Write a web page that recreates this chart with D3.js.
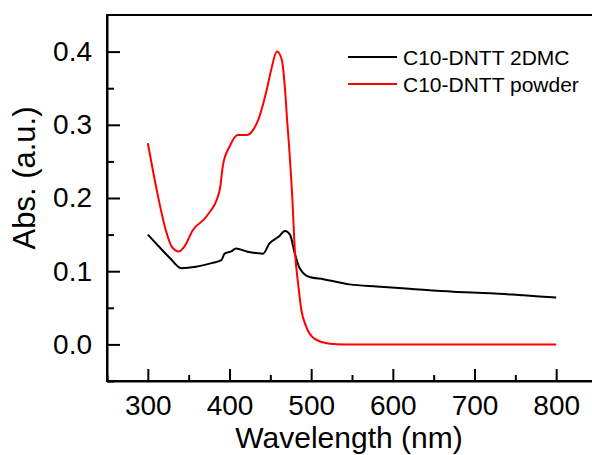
<!DOCTYPE html>
<html>
<head>
<meta charset="utf-8">
<script src="https://cdn.jsdelivr.net/npm/d3@7"></script>
<style>
    body { margin: 0; background: #fff; }
    svg { display: block; font-family: Arial, "Liberation Sans", sans-serif; }
    .axis text { font-size: 28px; fill: #000; }
    .axis path, .axis line { stroke: #000; stroke-width: 2; }
</style>
</head>
<body>
<div id="chart"></div>
<script>
// values
const dmcWave = [300, 310, 327, 341, 359, 378, 390, 394, 402, 408, 421, 441, 449, 460, 468, 474, 480, 486, 498, 515, 547, 580, 620, 674, 720, 760, 800];
const dmcAbs  = [0.150, 0.138, 0.118, 0.104, 0.106, 0.111, 0.115, 0.124, 0.127, 0.131, 0.127, 0.124, 0.138, 0.147, 0.155, 0.150, 0.124, 0.104, 0.092, 0.089, 0.082, 0.079, 0.076, 0.072, 0.070, 0.067, 0.064];

const powderWave = [300, 310, 322, 329, 338, 345, 355, 372, 388, 392, 400, 410, 421, 429, 436, 445, 451, 458, 464, 468, 470.5, 473, 477, 480, 484, 488, 494, 504, 523, 540, 800];
const powderAbs  = [0.275, 0.216, 0.156, 0.134, 0.127, 0.134, 0.156, 0.175, 0.211, 0.245, 0.270, 0.286, 0.286, 0.293, 0.309, 0.345, 0.375, 0.400, 0.389, 0.348, 0.307, 0.270, 0.198, 0.129, 0.083, 0.047, 0.024, 0.008, 0.001, 0, 0];

const xTicks = [300, 400, 500, 600, 700, 800];
const xMinor = [250, 350, 450, 550, 650, 750, 850];
const yTicks = [0.0, 0.1, 0.2, 0.3, 0.4];
const yMinor = [-0.05, 0.05, 0.15, 0.25, 0.35];

const seriesNames = ['C10-DNTT 2DMC', 'C10-DNTT powder'];
const seriesColors = ['#000000', '#ff0000'];

const W = 592, H = 455;
const plotLeft = 107, plotRight = 597, plotTop = 15, plotBottom = 381;

const svg = d3.select('#chart').append('svg')
    .attr('width', W)
    .attr('height', H);

const x = d3.scaleLinear().domain([250, 850]).range([plotLeft, plotRight]);
const y = d3.scaleLinear().domain([-0.05, 0.45]).range([plotBottom, plotTop]);

// frame
svg.append('rect')
    .attr('x', plotLeft).attr('y', plotTop)
    .attr('width', plotRight - plotLeft).attr('height', plotBottom - plotTop)
    .attr('fill', 'none').attr('stroke', '#000').attr('stroke-width', 2);

// bottom axis, ticks pointing in
const xAxis = svg.append('g')
    .attr('class', 'axis')
    .attr('transform', `translate(0,${plotBottom})`)
    .call(d3.axisBottom(x).tickValues(xTicks).tickSize(-12).tickSizeOuter(0).tickPadding(14).tickFormat(d3.format('d')));
xAxis.selectAll('text').attr('dy', '0.71em');

svg.append('g')
    .attr('class', 'axis')
    .attr('transform', `translate(0,${plotBottom})`)
    .call(d3.axisBottom(x).tickValues(xMinor).tickSize(-6).tickSizeOuter(0).tickFormat(''))
    .select('.domain').remove();

// left axis
svg.append('g')
    .attr('class', 'axis')
    .attr('transform', `translate(${plotLeft},0)`)
    .call(d3.axisLeft(y).tickValues(yTicks).tickSize(-13).tickSizeOuter(0).tickPadding(15).tickFormat(d3.format('.1f')));

svg.append('g')
    .attr('class', 'axis')
    .attr('transform', `translate(${plotLeft},0)`)
    .call(d3.axisLeft(y).tickValues(yMinor).tickSize(-7).tickSizeOuter(0).tickFormat(''))
    .select('.domain').remove();

// curves
const line = d3.line()
    .x(d => x(d[0]))
    .y(d => y(d[1]))
    .curve(d3.curveMonotoneX);

const series = [
    dmcWave.map((w, i) => [w, dmcAbs[i]]),
    powderWave.map((w, i) => [w, powderAbs[i]])
];

series.forEach((s, i) => {
    svg.append('path')
        .datum(s)
        .attr('fill', 'none')
        .attr('stroke', seriesColors[i])
        .attr('stroke-width', 2)
        .attr('stroke-linejoin', 'round')
        .attr('d', line);
});

// legend
const legend = svg.append('g').attr('transform', 'translate(348,57)');
seriesNames.forEach((name, i) => {
    const row = legend.append('g').attr('transform', `translate(0,${i * 27})`);
    row.append('line')
        .attr('x1', 0).attr('x2', 49)
        .attr('stroke', seriesColors[i]).attr('stroke-width', 2);
    row.append('text')
        .attr('x', 55).attr('dy', '0.36em')
        .attr('font-size', 21)
        .text(name);
});

// axis titles
svg.append('text')
    .attr('x', 349).attr('y', 448)
    .attr('text-anchor', 'middle')
    .attr('font-size', 30)
    .text('Wavelength (nm)');

svg.append('text')
    .attr('transform', 'translate(35,178) rotate(-90)')
    .attr('text-anchor', 'middle')
    .attr('font-size', 31)
    .text('Abs. (a.u.)');
</script>
</body>
</html>
